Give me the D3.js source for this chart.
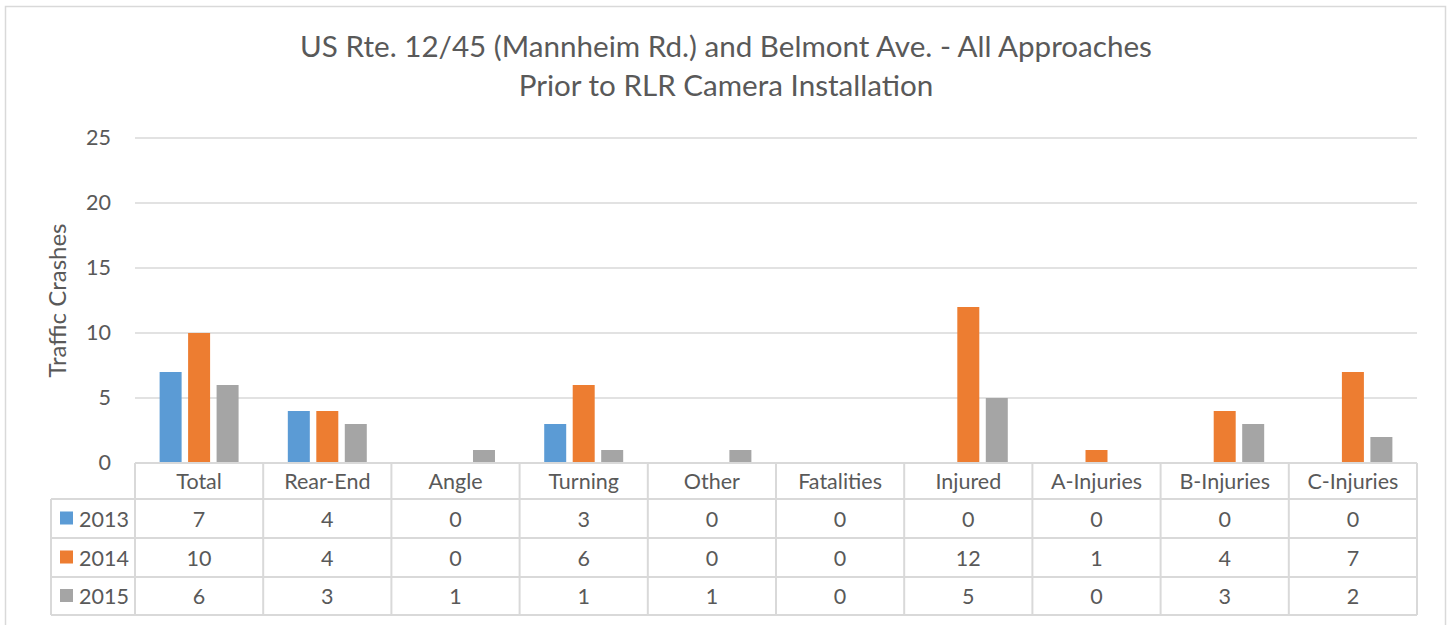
<!DOCTYPE html>
<html lang="en">
<head>
    <meta charset="UTF-8">
    <title>Traffic Crashes</title>
    <script src="https://cdnjs.cloudflare.com/ajax/libs/d3/7.8.5/d3.min.js"></script>
    <style>
        body { margin: 0; background: #fff; }
        svg text { font-family: Lato, "Open Sans", sans-serif; fill: #595959; }
    </style>
</head>
<body>
<svg id="chart" width="1449" height="625"></svg>

<script>
    const categories = ["Total", "Rear-End", "Angle", "Turning", "Other", "Fatalities", "Injured", "A-Injuries", "B-Injuries", "C-Injuries"];
    const years = ["2013", "2014", "2015"];
    const values2013 = [7, 4, 0, 3, 0, 0, 0, 0, 0, 0];
    const values2014 = [10, 4, 0, 6, 0, 0, 12, 1, 4, 7];
    const values2015 = [6, 3, 1, 1, 1, 0, 5, 0, 3, 2];
    const yTicks = [0, 5, 10, 15, 20, 25];
    const titleLines = ["US Rte. 12/45 (Mannheim Rd.) and Belmont Ave. - All Approaches", "Prior to RLR Camera Installation"];

    const series = [values2013, values2014, values2015];
    const colors = ["#5B9BD5", "#ED7D31", "#A5A5A5"];
    const gridColor = "#D9D9D9";
    const fontSize = 21.5;

    const svg = d3.select("#chart");

    // chart frame
    svg.append("rect")
        .attr("x", 5.5).attr("y", 6.5)
        .attr("width", 1440).attr("height", 640)
        .attr("fill", "#fff").attr("stroke", gridColor).attr("stroke-width", 1.5);

    const plotLeft = 135, plotRight = 1417, plotTop = 138, plotBottom = 463;

    const x = d3.scaleBand().domain(categories).range([plotLeft, plotRight]);
    const y = d3.scaleLinear().domain([0, 25]).range([plotBottom, plotTop]);

    // title
    svg.append("g").selectAll("text")
        .data(titleLines)
        .enter().append("text")
        .attr("x", 726)
        .attr("y", (d, i) => 57 + i * 39)
        .attr("text-anchor", "middle")
        .attr("font-size", 29.6)
        .text(d => d);

    // gridlines
    svg.append("g").selectAll("line")
        .data(yTicks)
        .enter().append("line")
        .attr("x1", plotLeft).attr("x2", plotRight)
        .attr("y1", d => y(d)).attr("y2", d => y(d))
        .attr("stroke", gridColor).attr("stroke-width", 1.5);

    // y axis labels
    const yAxis = d3.axisLeft(y).tickValues(yTicks).tickSize(0).tickPadding(24);
    const yg = svg.append("g").attr("transform", `translate(${plotLeft},0)`).call(yAxis);
    yg.select(".domain").remove();
    yg.selectAll("text").attr("font-size", fontSize).attr("fill", "#595959")
        .attr("font-family", "Lato, Open Sans, sans-serif");

    svg.append("text")
        .attr("transform", `translate(66,${(plotTop + plotBottom) / 2}) rotate(-90)`)
        .attr("text-anchor", "middle")
        .attr("font-size", 24)
        .text("Traffic Crashes");

    // bars
    const xSub = d3.scaleBand().domain(years).range([0, x.bandwidth()]).paddingInner(0.228).paddingOuter(0.864);
    const barGroup = svg.append("g");
    series.forEach((vals, si) => {
        barGroup.append("g").selectAll("rect")
            .data(vals.map((v, i) => ({ cat: categories[i], v })))
            .enter().append("rect")
            .attr("x", d => x(d.cat) + xSub(years[si]))
            .attr("width", xSub.bandwidth())
            .attr("y", d => y(d.v))
            .attr("height", d => plotBottom - y(d.v))
            .attr("fill", colors[si]);
    });

    // data table
    const rowH = [36, 39, 39, 38];
    const rowY = [plotBottom];
    rowH.forEach(h => rowY.push(rowY[rowY.length - 1] + h));
    const legendLeft = 51;
    const tbl = svg.append("g");

    // horizontal lines
    rowY.forEach((ry, i) => {
        tbl.append("line")
            .attr("x1", i === 0 ? plotLeft : legendLeft).attr("x2", plotRight)
            .attr("y1", ry).attr("y2", ry)
            .attr("stroke", gridColor).attr("stroke-width", 2);
    });
    // vertical lines
    categories.concat(["end"]).forEach((c, i) => {
        const xx = i < categories.length ? x(c) : plotRight;
        tbl.append("line")
            .attr("x1", xx).attr("x2", xx)
            .attr("y1", plotBottom).attr("y2", rowY[4])
            .attr("stroke", gridColor).attr("stroke-width", 2);
    });
    tbl.append("line")
        .attr("x1", legendLeft).attr("x2", legendLeft)
        .attr("y1", rowY[1]).attr("y2", rowY[4])
        .attr("stroke", gridColor).attr("stroke-width", 2);

    // category header
    tbl.append("g").selectAll("text")
        .data(categories)
        .enter().append("text")
        .attr("x", d => x(d) + x.bandwidth() / 2)
        .attr("y", (rowY[0] + rowY[1]) / 2 + 8)
        .attr("text-anchor", "middle")
        .attr("font-size", fontSize)
        .text(d => d);

    // series rows
    series.forEach((vals, si) => {
        const cy = (rowY[si + 1] + rowY[si + 2]) / 2;
        tbl.append("rect")
            .attr("x", 60).attr("y", cy - 7)
            .attr("width", 13).attr("height", 13)
            .attr("fill", colors[si]);
        tbl.append("text")
            .attr("x", 79).attr("y", cy + 8)
            .attr("font-size", fontSize)
            .text(years[si]);
        tbl.append("g").selectAll("text")
            .data(vals)
            .enter().append("text")
            .attr("x", (d, i) => x(categories[i]) + x.bandwidth() / 2)
            .attr("y", cy + 8)
            .attr("text-anchor", "middle")
            .attr("font-size", fontSize)
            .text(d => d);
    });
</script>
</body>
</html>
